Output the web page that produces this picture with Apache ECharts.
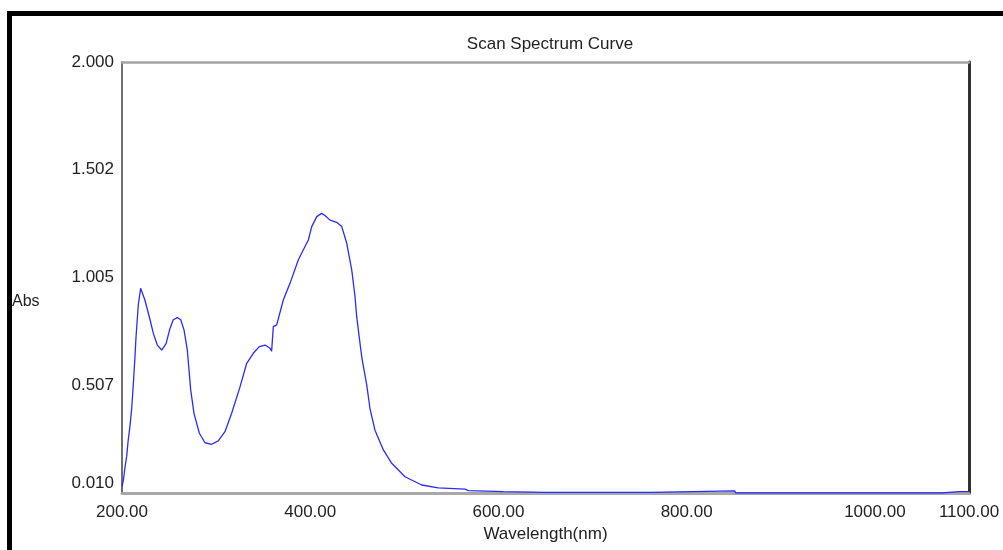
<!DOCTYPE html>
<html>
<head>
<meta charset="utf-8">
<script src="https://cdn.jsdelivr.net/npm/echarts@6/dist/echarts.min.js"></script>
<style>
html,body{margin:0;padding:0;background:#fff;}
#chart{width:1003px;height:550px;}
</style>
</head>
<body>
<div id="chart"></div>
<script>
const titleText = 'Scan Spectrum Curve';
const xName = 'Wavelength(nm)';
const yName = 'Abs';
const xTickValues = [200, 400, 600, 800, 1000, 1100];
const xTickLabels = ['200.00', '400.00', '600.00', '800.00', '1000.00', '1100.00'];
const yTickValues = [0.010, 0.5075, 1.005, 1.5025, 2.000];
const yTickLabels = ['0.010', '0.507', '1.005', '1.502', '2.000'];

const wavelength = [
  200, 201.5, 203.2, 205, 206.5, 208.5, 210.3, 212, 213.8, 214.9,
  217.3, 219.8, 221.5, 224.4, 229.8, 233.3, 237.5, 242.2, 246.8, 251,
  254.5, 258.8, 262.4, 265.9, 269.4, 273, 276.5, 282.2, 288.2, 295.3,
  302.3, 309.4, 316.5, 325.4, 332.5, 339.5, 345.9, 352, 357.3, 359,
  360.8, 364.4, 371.4, 378.5, 387.3, 392.6, 398, 401.6, 406.9, 412.2,
  416, 421, 428.1, 433.5, 438.8, 444.1, 447.6, 449.4, 452.9, 455,
  457.5, 460, 463.5, 468.8, 477.7, 486.6, 500.7, 518.5, 536, 564.5,
  568, 605, 650, 762, 763, 851, 852, 1071, 1072, 1090,
  1092, 1095, 1100
];
const absorbance = [
  0.04, 0.07, 0.13, 0.18, 0.25, 0.32, 0.40, 0.51, 0.64, 0.73,
  0.878, 0.955, 0.955, 0.90, 0.81, 0.747, 0.693, 0.67, 0.70, 0.77,
  0.81, 0.82, 0.81, 0.763, 0.67, 0.486, 0.378, 0.286, 0.242, 0.235,
  0.251, 0.293, 0.378, 0.50, 0.609, 0.655, 0.686, 0.693, 0.678, 0.665,
  0.778, 0.786, 0.901, 0.978, 1.086, 1.132, 1.178, 1.24, 1.286, 1.301,
  1.29, 1.27, 1.26, 1.24, 1.163, 1.04, 0.916, 0.824, 0.701, 0.63,
  0.57, 0.51, 0.40, 0.30, 0.209, 0.147, 0.085, 0.047, 0.034, 0.028,
  0.021, 0.016, 0.013, 0.013, 0.020, 0.020, 0.010, 0.010, 0.016, 0.016,
  0.010, 0.016, 0.016
];

const points = wavelength.map((w, i) => [w, absorbance[i]]);
const FONT = 'Liberation Sans';

const chart = echarts.init(document.getElementById('chart'), null, {renderer: 'canvas'});
chart.setOption({
  backgroundColor: '#ffffff',
  animation: false,
  title: [{
    text: titleText,
    left: 545, top: 31, textAlign: 'center',
    textStyle: {fontFamily: FONT, fontSize: 17, fontWeight: 'normal', color: '#222'}
  }, {
    text: yName,
    left: 12, top: 294, padding: 0,
    textStyle: {fontFamily: FONT, fontSize: 16, fontWeight: 'normal', color: '#222'}
  }],
  grid: {left: 122, top: 62, right: 34, bottom: 57, containLabel: false},
  xAxis: [{
    type: 'value', min: 200, max: 1100, position: 'bottom',
    name: xName, nameLocation: 'middle', nameGap: 31,
    nameTextStyle: {fontFamily: FONT, fontSize: 17, color: '#222'},
    axisLine: {show: true, lineStyle: {color: '#a8a8a8', width: 3}},
    axisTick: {show: false},
    splitLine: {show: false},
    axisLabel: {
      customValues: xTickValues, margin: 11,
      fontFamily: FONT, fontSize: 17, color: '#222',
      formatter: v => xTickLabels[xTickValues.indexOf(v)]
    }
  }, {
    type: 'value', min: 200, max: 1100, position: 'top',
    axisLine: {show: true, lineStyle: {color: '#a4a4a4', width: 2.5}},
    axisTick: {show: false}, axisLabel: {show: false}, splitLine: {show: false}
  }],
  yAxis: [{
    type: 'value', min: 0.010, max: 2.000, position: 'left',
    axisLine: {show: true, lineStyle: {color: '#707070', width: 2}},
    axisTick: {show: false},
    splitLine: {show: false},
    axisLabel: {
      customValues: yTickValues, margin: 8,
      fontFamily: FONT, fontSize: 17, color: '#222',
      formatter: v => {
        const i = yTickValues.findIndex(t => Math.abs(t - v) < 1e-6);
        return i === 0 ? '{low|' + yTickLabels[i] + '}' : yTickLabels[i];
      },
      rich: {low: {fontFamily: FONT, fontSize: 17, color: '#222', padding: [0, 0, 20, 0]}}
    }
  }, {
    type: 'value', min: 0.010, max: 2.000, position: 'right',
    axisLine: {show: true, lineStyle: {color: '#303030', width: 3}},
    axisTick: {show: false}, axisLabel: {show: false}, splitLine: {show: false}
  }],
  series: [{
    type: 'line',
    data: points,
    xAxisIndex: 0, yAxisIndex: 0,
    showSymbol: false,
    lineStyle: {color: '#2a2aff', width: 1.3},
    z: 5
  }],
  graphic: [
    {type: 'rect', shape: {x: 7, y: 11, width: 996, height: 5}, style: {fill: '#000'}},
    {type: 'rect', shape: {x: 7, y: 11, width: 5, height: 539}, style: {fill: '#000'}}
  ]
});
</script>
</body>
</html>
